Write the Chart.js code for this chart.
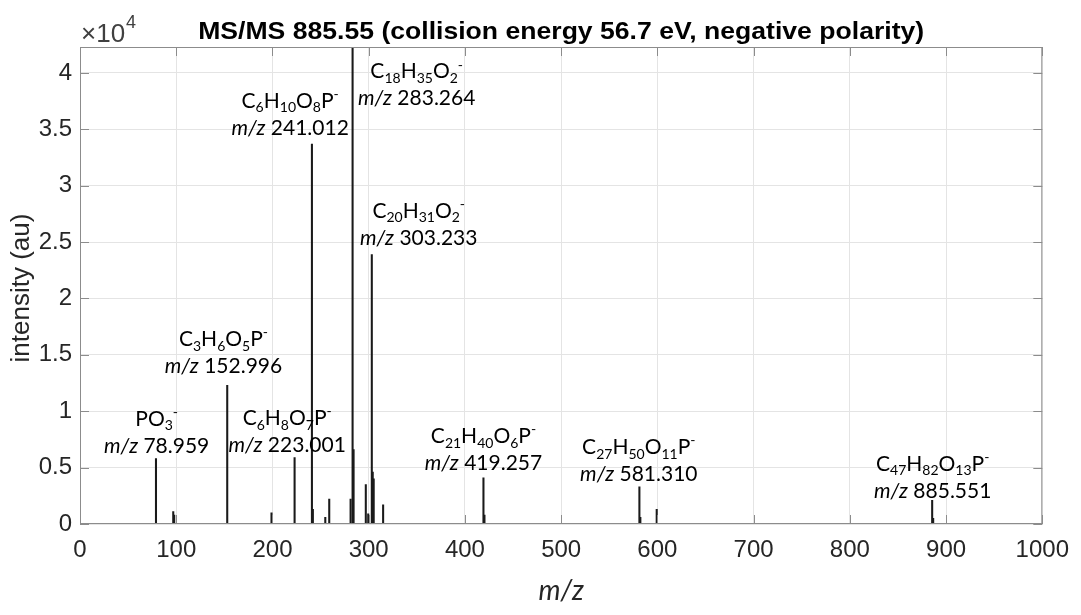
<!DOCTYPE html>
<html>
<head>
<meta charset="utf-8">
<script src="https://cdn.jsdelivr.net/npm/chart.js@4/dist/chart.umd.min.js"></script>
<style>
  html, body { margin: 0; padding: 0; background: #fff; }
  #wrap { width: 1081px; height: 615px; position: relative; }
</style>
</head>
<body>
<div id="wrap"><canvas id="chart"></canvas></div>
<script>
// peak list (m/z, intensity in counts)
const peakMz = [78.959, 96.9, 97.9, 152.996, 199.0, 223.001, 241.012, 242.0, 254.9, 259.0,
  281.2, 283.264, 284.3, 297.0, 299.5, 303.233, 304.2, 305.2, 315.0,
  419.257, 420.3, 581.310, 582.3, 599.3, 885.551, 886.6];
const peakIntensity = [5800, 1100, 800, 12300, 1000, 5900, 33700, 1300, 600, 2200,
  2200, 42300, 6600, 3500, 900, 23900, 4600, 4000, 1700,
  4100, 800, 3300, 600, 1300, 2100, 500];

// annotated fragments
const labelFormula = ['PO3-', 'C3H6O5P-', 'C6H8O7P-', 'C6H10O8P-', 'C18H35O2-', 'C20H31O2-',
  'C21H40O6P-', 'C27H50O11P-', 'C47H82O13P-'];
const labelMz = ['78.959', '152.996', '223.001', '241.012', '283.264', '303.233',
  '419.257', '581.310', '885.551'];
// where each label sits, in data units (x = m/z, y = intensity of the lower line)
const labelX = [79.7, 149.1, 215.3, 218.4, 349.9, 352.0, 419.3, 580.7, 886.1];
const labelY = [6330, 13400, 6390, 34520, 37120, 24760, 4790, 3820, 2350];

const xTicks = [0, 100, 200, 300, 400, 500, 600, 700, 800, 900, 1000];
const yTicks = [0, 5000, 10000, 15000, 20000, 25000, 30000, 35000, 40000];

const AXIS = '#8c8c8c';
const TXT = '#262626';
const LBL_FONT = 'Lato, "Open Sans", sans-serif';
const AX_FONT = '"Liberation Sans", Arial, sans-serif';

// split "C6H10O8P-" into pieces: digits -> subscript, '-' -> superscript
function parseFormula(f) {
  const parts = [];
  for (const ch of f) {
    let mode = 'n';
    if (/[0-9]/.test(ch)) mode = 'sub';
    else if (ch === '-') mode = 'sup';
    const last = parts[parts.length - 1];
    if (last && last.mode === mode) last.t += ch;
    else parts.push({ t: ch, mode: mode });
  }
  return parts;
}

function drawParts(ctx, parts, cx, baseY, size) {
  const fontFor = (p) => {
    const s = p.mode === 'n' ? size : Math.round(size * 0.66);
    return (p.it ? 'italic ' : '') + s + 'px ' + LBL_FONT;
  };
  let w = 0;
  parts.forEach(p => { ctx.font = fontFor(p); p.w = ctx.measureText(p.t).width; w += p.w; });
  let x = cx - w / 2;
  ctx.textAlign = 'left';
  ctx.textBaseline = 'alphabetic';
  parts.forEach(p => {
    ctx.font = fontFor(p);
    let dy = 0;
    if (p.mode === 'sub') dy = size * 0.22;
    if (p.mode === 'sup') dy = -size * 0.42;
    ctx.fillText(p.t, x, baseY + dy);
    x += p.w;
  });
}

const decorations = {
  id: 'decorations',
  afterDraw(chart) {
    const ctx = chart.ctx;
    const a = chart.chartArea;
    const xs = chart.scales.x, ys = chart.scales.y;
    ctx.save();

    // box + inward ticks on all four sides
    ctx.strokeStyle = AXIS;
    ctx.lineWidth = 1;
    ctx.strokeRect(a.left + 0.5, a.top + 0.5, a.right - a.left - 1, a.bottom - a.top - 1);
    const tl = 9;
    ctx.beginPath();
    xTicks.forEach(v => {
      const px = Math.round(xs.getPixelForValue(v)) + 0.5;
      ctx.moveTo(px, a.bottom); ctx.lineTo(px, a.bottom - tl);
      ctx.moveTo(px, a.top); ctx.lineTo(px, a.top + tl);
    });
    yTicks.forEach(v => {
      const py = Math.round(ys.getPixelForValue(v)) + 0.5;
      ctx.moveTo(a.left, py); ctx.lineTo(a.left + tl, py);
      ctx.moveTo(a.right, py); ctx.lineTo(a.right - tl, py);
    });
    ctx.stroke();

    // peak labels
    ctx.fillStyle = '#000';
    const size = 21;
    labelFormula.forEach((f, i) => {
      const cx = xs.getPixelForValue(labelX[i]);
      const by = ys.getPixelForValue(labelY[i]);
      drawParts(ctx, parseFormula(f), cx, by - 27, size);
      drawParts(ctx, [{ t: 'm/z', mode: 'n', it: true }, { t: ' ' + labelMz[i], mode: 'n' }], cx, by, size);
    });

    // title, squeezed like the original
    const title = 'MS/MS 885.55 (collision energy 56.7 eV, negative polarity)';
    ctx.font = 'bold 24px ' + AX_FONT;
    const tw = ctx.measureText(title).width;
    const sx = 726 / tw;
    ctx.save();
    ctx.translate((a.left + a.right) / 2, 39);
    ctx.scale(sx, 1);
    ctx.textAlign = 'center';
    ctx.textBaseline = 'alphabetic';
    ctx.fillStyle = '#000';
    ctx.fillText(title, 0, 0);
    ctx.restore();

    // x10^4 exponent
    ctx.fillStyle = '#404040';
    ctx.textAlign = 'left';
    ctx.textBaseline = 'alphabetic';
    ctx.font = '26px ' + AX_FONT;
    ctx.fillText('\u00d710', 81, 42);
    const w10 = ctx.measureText('\u00d710').width;
    ctx.font = '18px ' + AX_FONT;
    ctx.fillText('4', 81 + w10 + 1, 28);

    // axis titles
    ctx.fillStyle = TXT;
    ctx.font = 'italic 28px ' + LBL_FONT;
    ctx.textAlign = 'center';
    ctx.fillText('m/z', (a.left + a.right) / 2, 600);

    ctx.save();
    ctx.translate(29, 288);
    ctx.rotate(-Math.PI / 2);
    ctx.font = '26px ' + AX_FONT;
    ctx.textAlign = 'center';
    ctx.fillStyle = TXT;
    ctx.fillText('intensity (au)', 0, 0);
    ctx.restore();

    ctx.restore();
  }
};

const ctx = document.getElementById('chart').getContext('2d');
new Chart(ctx, {
  type: 'bar',
  data: {
    datasets: [{
      label: 'MS/MS 885.55',
      data: peakMz.map((m, i) => ({ x: m, y: peakIntensity[i] })),
      backgroundColor: '#1a1a1a',
      borderWidth: 0,
      barThickness: 1.4
    }]
  },
  options: {
    responsive: true,
    maintainAspectRatio: false,
    animation: false,
    layout: { padding: { top: 47, right: 35, left: 0, bottom: 0 } },
    plugins: { legend: { display: false }, tooltip: { enabled: false } },
    scales: {
      x: {
        type: 'linear',
        offset: false,
        min: 0, max: 1000,
        afterFit: (s) => { s.height = 91; },
        afterBuildTicks: (s) => { s.ticks = xTicks.map(v => ({ value: v })); },
        grid: { color: '#e4e4e4', drawTicks: false, offset: false },
        border: { display: false },
        ticks: {
          color: TXT, font: { family: AX_FONT, size: 24 }, padding: 12, maxRotation: 0,
          callback: (v) => String(v)
        }
      },
      y: {
        min: 0, max: 42300,
        afterFit: (s) => { s.width = 80; },
        afterBuildTicks: (s) => { s.ticks = yTicks.map(v => ({ value: v })); },
        grid: { color: '#e4e4e4', drawTicks: false },
        border: { display: false },
        ticks: {
          color: TXT, font: { family: AX_FONT, size: 24 }, padding: 8,
          callback: (v) => String(v / 10000)
        }
      }
    }
  },
  plugins: [decorations]
});
</script>
</body>
</html>
